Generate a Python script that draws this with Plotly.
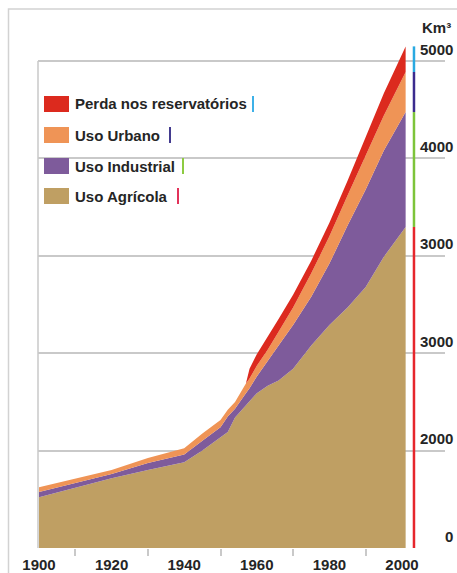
import plotly.graph_objects as go

years = [1900, 1910, 1920, 1930, 1940, 1945, 1950, 1952, 1954, 1957, 1958, 1960, 1963, 1966, 1970, 1975, 1980, 1985, 1990, 1995, 2001]
agricola = [520, 620, 715, 800, 880, 1000, 1140, 1190, 1340, 1470, 1510, 1590, 1665, 1720, 1840, 2080, 2290, 2470, 2680, 2990, 3296]
industrial = [55, 50, 45, 73, 80, 100, 100, 160, 90, 120, 130, 170, 260, 360, 450, 500, 630, 840, 1000, 1090, 1180]
urbano = [50, 40, 40, 50, 65, 75, 75, 70, 70, 100, 100, 110, 110, 140, 180, 240, 280, 310, 350, 360, 411]
reservatorios = [0, 0, 0, 0, 0, 0, 0, 0, 0, 0, 100, 120, 130, 130, 130, 130, 140, 150, 190, 230, 263]

series_names = ["Uso Agrícola", "Uso Industrial", "Uso Urbano", "Perda nos reservatórios"]
series_values = [agricola, industrial, urbano, reservatorios]
series_colors = ["#BF9F63", "#7E5B9B", "#EF9456", "#DC2A1E"]
bar_colors = ["#E6262C", "#7DC43A", "#3B2B8E", "#29A9E1"]
legend_mark_colors = ["#E2325A", "#8DCB41", "#433B8F", "#3DB1E8"]

x_tick_vals = [1900, 1920, 1940, 1960, 1980, 2000]
x_minor_vals = [1910, 1930, 1950, 1970, 1990]
y_grid_vals = [0, 1000, 2000, 3000, 4000, 5000]
y_tick_text = ["0", "2000", "3000", "3000", "4000", "5000"]
bar_year = 2003.3
unit_label = "Km³"

FONT = "Liberation Sans, Arial, sans-serif"
TXT = "#252525"
GRID = "#c9c9c9"

fig = go.Figure()
for name, vals, col in zip(series_names, series_values, series_colors):
    fig.add_trace(go.Scatter(x=years, y=vals, name=name, stackgroup="s", mode="lines",
                             line=dict(width=0, color=col), fillcolor=col, hoverinfo="skip"))

# side bar built from the final stacked values
base = 0
for vals, col in zip(series_values, bar_colors):
    top = base + vals[-1]
    fig.add_trace(go.Scatter(x=[bar_year, bar_year], y=[base, top], mode="lines",
                             line=dict(color=col, width=2.5), showlegend=False, hoverinfo="skip"))
    base = top

W, H = 457, 573
L, R, T, B = 38, 12, 20, 25
pw = W - L - R
ph = H - T - B

def px(x):
    return (x - L) / pw

def py(y):
    return (H - B - y) / ph

shapes = []
annotations = []
# outer frame
shapes.append(dict(type="rect", xref="paper", yref="paper", x0=px(8.5), x1=px(475), y0=py(590), y1=py(9),
                   line=dict(color="#d2d2d2", width=1.5), layer="below"))
# left vertical line
shapes.append(dict(type="line", xref="paper", yref="y", x0=0, x1=0, y0=0, y1=5000,
                   line=dict(color=GRID, width=1.5), layer="below"))

# legend (manual)
rows_y = [196, 166, 135, 104]
mark_x = [178, 183, 170, 253]
for name, col, mcol, ry, mx in zip(series_names, series_colors, legend_mark_colors, rows_y, mark_x):
    shapes.append(dict(type="rect", xref="paper", yref="paper", x0=px(44), x1=px(69), y0=py(ry + 8), y1=py(ry - 8),
                       fillcolor=col, line=dict(width=0)))
    shapes.append(dict(type="line", xref="paper", yref="paper", x0=px(mx), x1=px(mx), y0=py(ry + 8), y1=py(ry - 8),
                       line=dict(color=mcol, width=2)))
    annotations.append(dict(text=name, xref="paper", yref="paper", x=px(73), y=py(ry), xanchor="left", yanchor="middle",
                            showarrow=False, font=dict(family=FONT, size=15, color=TXT, weight="bold")))

for v, t in zip(y_grid_vals, y_tick_text):
    annotations.append(dict(text=t, xref="paper", yref="y", x=1, y=v, xanchor="right", yanchor="middle",
                            xshift=10, yshift=12, showarrow=False,
                            font=dict(family=FONT, size=15, color=TXT, weight="bold")))
annotations.append(dict(text=unit_label, xref="paper", yref="paper", x=px(453), y=py(27), xanchor="right",
                        yanchor="middle", showarrow=False, font=dict(family=FONT, size=15, color=TXT, weight="bold")))

fig.update_layout(
    width=W, height=H, margin=dict(l=L, r=R, t=T, b=B, pad=0, autoexpand=False),
    paper_bgcolor="white", plot_bgcolor="white", showlegend=False,
    shapes=shapes, annotations=annotations,
    xaxis=dict(range=[1900 - 1 / 3.63, 1900 + (445 - 39) / 3.63], showgrid=False, zeroline=False,
               automargin=False,
               tickmode="array", tickvals=x_tick_vals, ticktext=[str(v) for v in x_tick_vals],
               ticks="", showline=False, ticklabelstandoff=6,
               tickfont=dict(family=FONT, size=15, color=TXT, weight="bold"),
               minor=dict(tickmode="array", tickvals=x_minor_vals, ticks="outside", ticklen=7,
                          tickwidth=1.5, tickcolor=GRID, showgrid=False)),
    yaxis=dict(range=[0, (548 - T) / 97.4 * 1000], tickmode="array", tickvals=y_grid_vals,
               automargin=False,
               showticklabels=False, showgrid=True, gridcolor=GRID, gridwidth=1.5, zeroline=False),
)

fig.write_html("out.html", config={"displayModeBar": False},
               post_script="document.body.style.margin='0';document.body.style.overflow='hidden';")
